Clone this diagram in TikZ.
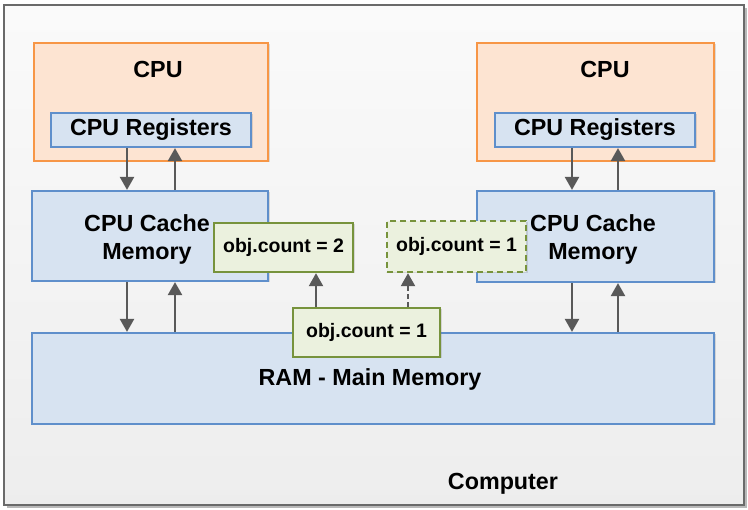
\documentclass[tikz,border=0pt]{standalone}
\usepackage{fontspec}
\setmainfont{Liberation Sans}
\usetikzlibrary{arrows.meta,shadows}
\definecolor{frameedge}{HTML}{6A6A6A}
\definecolor{framefill}{HTML}{F3F3F3}
\definecolor{orangeedge}{HTML}{F79646}
\definecolor{orangefill}{HTML}{FDE4D2}
\definecolor{blueedge}{HTML}{5F8FCB}
\definecolor{bluefill}{HTML}{D7E3F1}
\definecolor{greenedge}{HTML}{77933C}
\definecolor{greenfill}{HTML}{EBF1DE}
\definecolor{arrowgray}{HTML}{595959}
\tikzset{
  softshadow/.style={drop shadow={shadow xshift=1.5pt, shadow yshift=-1.5pt, opacity=0.25}},
  cpubox/.style={draw=orangeedge, fill=orangefill, line width=2.2pt, inner sep=0pt, softshadow},
  bluebox/.style={draw=blueedge, fill=bluefill, line width=2.2pt, inner sep=0pt, softshadow},
  greenbox/.style={draw=greenedge, fill=greenfill, line width=2.4pt, inner sep=0pt, softshadow, font=\fontsize{19.5}{22}\selectfont\bfseries},
  bigtext/.style={font=\fontsize{23.3}{28}\selectfont\bfseries, align=center, inner sep=0pt},
  flow/.style={draw=arrowgray, line width=2.3pt, -{Triangle[length=13pt,width=14pt]}},
}
\begin{document}
\begin{tikzpicture}[x=1pt,y=-1pt]
\useasboundingbox (0,0) rectangle (748,510);
% outer frame
\fill[gray!55] (7,8) rectangle (747,508);
\node[draw=frameedge, line width=2pt, top color=white!60!framefill, bottom color=framefill!95!gray, minimum width=740, minimum height=500, inner sep=0pt] (frame) at (374,255) {};
% CPUs
\node[cpubox, minimum width=234, minimum height=118] (cpuL) at (151,102) {};
\node[cpubox, minimum width=237, minimum height=118] (cpuR) at (595.5,102) {};
\node[bigtext] (cpuLt) at (158,69) {CPU};
\node[bigtext] (cpuRt) at (605,69) {CPU};
% registers
\node[bluebox, bigtext, minimum width=200, minimum height=34] (regL) at (151,130) {CPU Registers};
\node[bluebox, bigtext, minimum width=200, minimum height=34] (regR) at (595,130) {CPU Registers};
% caches
\node[bluebox, minimum width=236, minimum height=90] (cacheL) at (150,236) {};
\node[bluebox, minimum width=237, minimum height=91] (cacheR) at (595.5,236.5) {};
\node[bigtext] (cacheLt) at (147,239) {CPU Cache\\Memory};
\node[bigtext] (cacheRt) at (593,239) {CPU Cache\\Memory};
% RAM
\node[bluebox, bigtext, minimum width=682, minimum height=91] (ram) at (373,378.5) {};
\node[bigtext] (ramt) at (370,379) {RAM - Main Memory};
% arrows registers <-> cache
\draw[flow] (regL.south -| 127,0) -- (cacheL.north -| 127,0);
\draw[flow] (cacheL.north -| 175,0) -- (regL.south -| 175,0);
\draw[flow] (regR.south -| 572,0) -- (cacheR.north -| 572,0);
\draw[flow] (cacheR.north -| 618,0) -- (regR.south -| 618,0);
% arrows cache <-> RAM
\draw[flow] (cacheL.south -| 127,0) -- (ram.north -| 127,0);
\draw[flow] (ram.north -| 175,0) -- (cacheL.south -| 175,0);
\draw[flow] (cacheR.south -| 572,0) -- (ram.north -| 572,0);
\draw[flow] (ram.north -| 618,0) -- (cacheR.south -| 618,0);
% object boxes
\node[greenbox, minimum width=139, minimum height=49] (objL) at (283.5,247.5) {obj.count = 2};
\node[greenbox, dashed, dash pattern=on 6pt off 4pt, minimum width=139, minimum height=51] (objR) at (456.5,246.5) {obj.count = 1};
\node[greenbox, minimum width=147, minimum height=49] (objM) at (366.5,332.5) {obj.count = 1};
\draw[flow] (objM.north -| 316,0) -- (objL.south -| 316,0);
\draw[flow, dash pattern=on 5pt off 3pt] (objM.north -| 408,0) -- (objR.south -| 408,0);
% label
\node[bigtext] (comp) at (503,484) {Computer};
\end{tikzpicture}
\end{document}
